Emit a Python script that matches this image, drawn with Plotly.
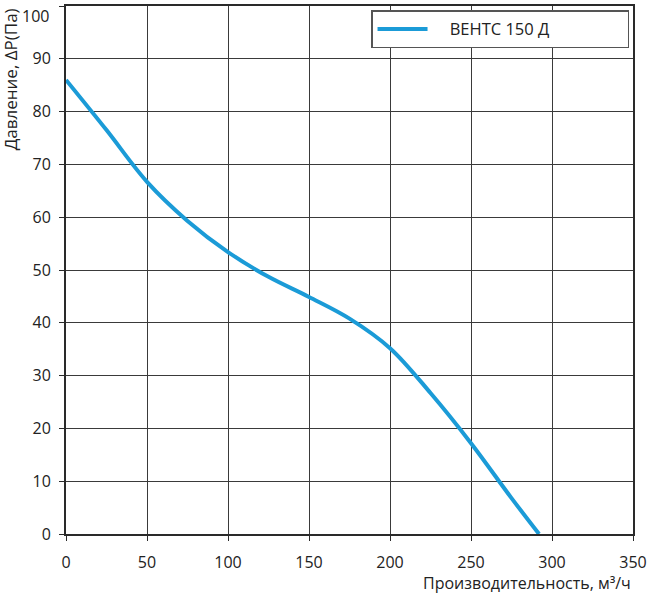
import plotly.graph_objects as go

flow = [0, 25, 50, 75, 100, 125, 150, 175, 200, 225, 250, 275, 292]
pressure = [86, 76.5, 66.7, 59.3, 53.4, 48.7, 44.9, 40.8, 35.2, 26.7, 17.2, 6.8, 0]
series_name = "ВЕНТС 150 Д"
x_ticks = [0, 50, 100, 150, 200, 250, 300, 350]
y_ticks = [0, 10, 20, 30, 40, 50, 60, 70, 80, 90, 100]
x_title = "Производительность, м³/ч"
y_title = "Давление, ΔP(Па)"

FONT = "Open Sans, sans-serif"
top_tick = max(y_ticks)
# the top label is drawn as an annotation nudged down so it fits in the page
y_ticktext = ["" if v == top_tick else str(v) for v in y_ticks]

fig = go.Figure()
fig.add_trace(go.Scatter(
    x=flow, y=pressure, mode="lines", name="\u00a0\u00a0\u00a0\u00a0" + series_name,
    line=dict(color="#1b9bd7", width=4, shape="spline", smoothing=1.0),
))

axis_common = dict(
    showgrid=True, gridcolor="#3a3a3a", gridwidth=1,
    showline=True, linecolor="#2a2a2a", linewidth=2, mirror=True,
    ticks="outside", ticklen=5, tickcolor="#2a2a2a", tickwidth=1,
    zeroline=False, automargin=False, ticklabeloverflow="allow",
    tickfont=dict(family=FONT, size=16, color="#222"),
)

fig.update_layout(
    width=647, height=594,
    margin=dict(l=66, r=14, t=6, b=60),
    plot_bgcolor="white", paper_bgcolor="white",
    xaxis=dict(range=[0, 350], tickvals=x_ticks, ticklabelstandoff=8, **axis_common),
    yaxis=dict(range=[0, 100], tickvals=y_ticks, ticktext=y_ticktext,
               ticklabelstandoff=5, **axis_common),
    showlegend=True,
    legend=dict(
        orientation="h",
        x=0.993, y=0.992, xanchor="right", yanchor="top",
        bgcolor="white", bordercolor="#555", borderwidth=1.5,
        font=dict(family=FONT, size=16.5, color="#222"),
        entrywidth=190, entrywidthmode="pixels",
        itemwidth=50,
    ),
    annotations=[
        dict(text=x_title, xref="paper", yref="paper", x=1.0, y=-0.093,
             xanchor="right", yanchor="middle", showarrow=False,
             font=dict(family=FONT, size=16, color="#222")),
        dict(text=y_title, xref="paper", yref="paper", x=-0.122, y=1.0,
             xanchor="left", yanchor="top", textangle=-90, showarrow=False,
             font=dict(family=FONT, size=17, color="#222")),
        dict(text=str(top_tick), xref="paper", yref="y", x=0, y=top_tick,
             xanchor="right", yanchor="top", xshift=-15, yshift=3,
             showarrow=False, font=dict(family=FONT, size=16, color="#222")),
    ],
)

fig.write_html("out.html")
